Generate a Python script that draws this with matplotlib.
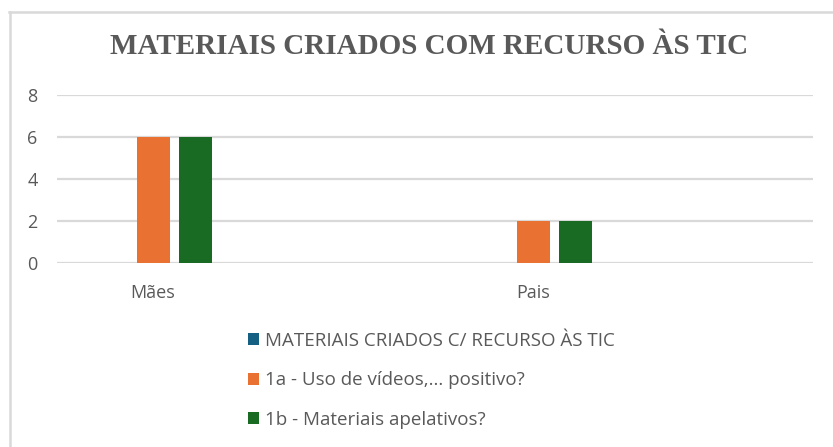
import matplotlib.pyplot as plt
from matplotlib.lines import Line2D
from matplotlib.patches import Patch
import numpy as np

categories = ["Mães", "Pais"]
series_names = [
    "MATERIAIS CRIADOS C/ RECURSO ÀS TIC",
    "1a - Uso de vídeos,... positivo?",
    "1b - Materiais apelativos?",
]
series_values = [
    [0, 0],
    [6, 2],
    [6, 2],
]
colors = ["#156082", "#E97132", "#196B24"]
title = "MATERIAIS CRIADOS COM RECURSO ÀS TIC"
yticks = [0, 2, 4, 6, 8]

W, H = 833, 447
fig = plt.figure(figsize=(W / 100, H / 100), dpi=100)

# plot area in pixels
left, right, top, bottom = 57, 813, 95, 263
ax = fig.add_axes([left / W, 1 - bottom / H, (right - left) / W, (bottom - top) / H])

x = np.arange(len(categories))
spacing = 42 / 380
width = 33 / 380
for i, (vals, c) in enumerate(zip(series_values, colors)):
    ax.bar(x + (i - 1) * spacing, vals, width=width, color=c, zorder=3)

ax.set_xlim((left - 153) / 380, (right - 153) / 380)
ax.set_ylim(0, 8)
ax.set_yticks(yticks)
ax.yaxis.grid(True, color="#D9D9D9", linewidth=1.6, zorder=0)
ax.set_xticks(x)
ax.set_xticklabels(categories)
for s in ax.spines.values():
    s.set_visible(False)
ax.tick_params(length=0, colors="#595959", labelsize=13)
ax.tick_params(axis="y", pad=14)
ax.tick_params(axis="x", pad=15)
for lab in ax.get_xticklabels() + ax.get_yticklabels():
    lab.set_fontfamily("Open Sans")

fig.text(429 / W, 1 - 47 / H, title, ha="center", va="center",
         fontsize=21, fontweight="bold", family="Liberation Serif", color="#595959")

handles = [Patch(facecolor=c) for c in colors]
fig.legend(handles, series_names, loc="upper left", bbox_to_anchor=(231 / W, 1 - 315 / H),
           frameon=False, ncol=1, handlelength=0.6, handleheight=0.6, handletextpad=0.3,
           labelspacing=1.15, prop={"family": "Open Sans", "size": 13.5}, labelcolor="#595959")

# chart border
fig.add_artist(Line2D([9 / W, 1], [1 - 12 / H, 1 - 12 / H], color="#D9D9D9", linewidth=1.8))
fig.add_artist(Line2D([10 / W, 10 / W], [1 - 12 / H, 0], color="#D9D9D9", linewidth=1.8))

fig.savefig("out.png", dpi=100)
